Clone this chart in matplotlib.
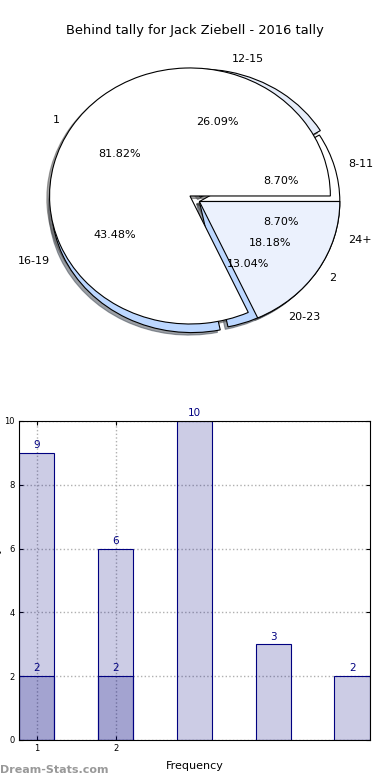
import numpy as np
import matplotlib
matplotlib.use('Agg')
import matplotlib.pyplot as plt

# pie data
behind_labels = ['1', '2']
behind_counts = [9, 2]
group_labels = ['8-11', '12-15', '16-19', '20-23', '24+']
group_counts = [2, 6, 10, 3, 2]

# bar data
bar_pos = [1, 2, 3, 4, 5]
bar_vals = [9, 6, 10, 3, 2]
bar2_pos = [1, 2]
bar2_vals = [2, 2]
xtick_labels = ['1', '2']

fig = plt.figure(figsize=(3.9, 7.8), dpi=100)

# ---- pie ----
ax1 = fig.add_axes([0.0613, 0.5365, 0.9, 0.4103])
wp = dict(edgecolor='black', linewidth=0.8)
shad = {'ox': -0.014, 'oy': -0.014}
ax1.pie(group_counts, labels=group_labels, autopct='%.2f%%',
        explode=[0, 0.035, 0.06, 0, 0],
        colors=['white', '#e6edfa', '#bcd7ff', '#bcd7ff', '#6b7b3c'],
        shadow=shad, wedgeprops=wp, textprops=dict(fontsize=8))
ax1.pie(behind_counts, labels=behind_labels, autopct='%.2f%%',
        explode=[0.08, 0],
        colors=['white', '#ebf1fd'],
        shadow=shad, wedgeprops=wp, textprops=dict(fontsize=8))
ax1.set_aspect('auto')
ax1.set_xlim(-1.25, 1.25)
ax1.set_ylim(-1.25, 1.25)
fig.text(0.4987, 0.9615, 'Behind tally for Jack Ziebell - 2016 tally',
         ha='center', va='center', fontsize=9.4)

# ---- bars ----
ax2 = fig.add_axes([0.0487, 0.0513, 0.9, 0.409])
ax2.bar(bar_pos, bar_vals, width=0.45, color='navy', alpha=0.2)
ax2.bar(bar_pos, bar_vals, width=0.45, facecolor='none', edgecolor='navy', linewidth=0.8)
ax2.bar(bar2_pos, bar2_vals, width=0.45, color='navy', alpha=0.2)
ax2.bar(bar2_pos, bar2_vals, width=0.45, facecolor='none', edgecolor='navy', linewidth=0.8)
for x, v in zip(bar_pos, bar_vals):
    ax2.annotate(str(v), (x, v), xytext=(0, 2), textcoords='offset points',
                 ha='center', va='bottom', fontsize=7.5, color='navy',
                 annotation_clip=False)
for x, v in zip(bar2_pos, bar2_vals):
    ax2.annotate(str(v), (x, v), xytext=(0, 2), textcoords='offset points',
                 ha='center', va='bottom', fontsize=7.5, color='navy')
ax2.set_xlim(0.775, 5.225)
ax2.set_ylim(0, 10)
ax2.set_xticks(bar2_pos)
ax2.set_xticklabels(xtick_labels)
ax2.set_yticks(np.arange(0, 11, 2))
ax2.tick_params(labelsize=6, direction='in', top=True, right=True, length=3, pad=3)
ax2.grid(True, linestyle=':', color='#b0b0b0', linewidth=1)
ax2.set_axisbelow(True)
ax2.set_xlabel('Frequency', fontsize=8, labelpad=6)
ax2.set_ylabel('Behind Tally', fontsize=8)
ax2.yaxis.set_label_coords(-0.048, 0.5)

fig.text(0.0, 0.0128, 'Dream-Stats.com', fontsize=8, fontweight='bold',
         color='#999999', ha='left', va='center')

fig.savefig('out.png', dpi=100)
